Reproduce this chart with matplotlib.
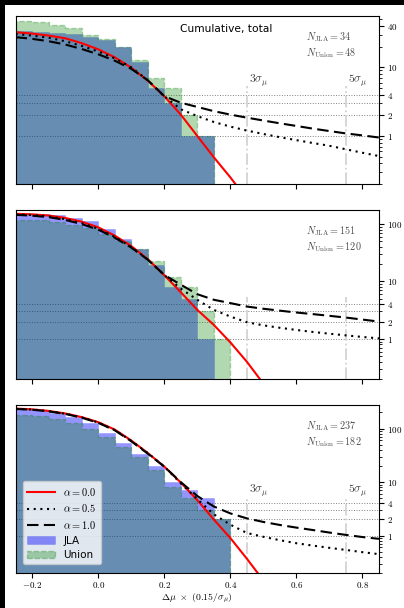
import numpy as np
import matplotlib
matplotlib.use("Agg")
import matplotlib.pyplot as plt
from matplotlib.patches import Rectangle

plt.rcParams['mathtext.fontset'] = 'cm'

# ---------------- data ----------------
bin_edges = [-0.25, -0.2, -0.15, -0.1, -0.05, 0.0, 0.05, 0.1, 0.15, 0.2, 0.25, 0.3, 0.35, 0.4]

jla_p1 = [34, 33, 32, 31, 28, 25, 20, 12, 5, 3, 1, 1]
union_p1 = [48, 45, 42, 37, 30, 26, 20, 13, 7, 5, 2, 1]
jla_p2 = [151, 150, 142, 128, 111, 83, 56, 37, 19, 8, 5, 1]
union_p2 = [120, 117, 110, 98, 85, 68, 50, 37, 23, 12, 8, 3, 1]
jla_p3 = [237, 219, 198, 164, 127, 84, 53, 34, 20, 10, 7, 5, 2]
union_p3 = [182, 170, 150, 125, 100, 70, 45, 30, 17, 8, 5, 3, 2]

n_jla = [34, 151, 237]
n_union = [48, 120, 182]

x_model = [-0.25, -0.2, -0.15, -0.1, -0.05, 0.0, 0.05, 0.1, 0.15, 0.2, 0.25, 0.3,
           0.35, 0.4, 0.45, 0.5, 0.55, 0.6, 0.65, 0.7, 0.75, 0.8, 0.85]

red_p1 = [32.5, 31, 29, 26.5, 22.5, 18.3, 14, 9.9, 6.4, 3.8, 2.05, 1.0, 0.49, 0.25, 0.12]
dot_p1 = [30.5, 29, 27, 24, 20.5, 17, 13.5, 10, 6.5, 3.8, 2.45, 1.95, 1.6, 1.37, 1.2,
          1.07, 0.96, 0.87, 0.79, 0.72, 0.64, 0.57, 0.51]
dash_p1 = [27.5, 26, 24, 21.5, 18.5, 15.5, 12.5, 9.5, 6.5, 3.8, 3.05, 2.65, 2.3, 2.05, 1.85,
           1.68, 1.53, 1.4, 1.28, 1.18, 1.09, 1.02, 0.95]

red_p2 = [151, 148, 141, 128, 110, 88, 63, 41.5, 24.5, 12.9, 6.5, 3.2, 1.75, 0.87, 0.4, 0.166]
dot_p2 = [148, 144, 136, 122, 104, 83, 60, 40, 24, 13, 7.5, 4.8, 3.2, 2.45, 1.95,
          1.72, 1.56, 1.43, 1.32, 1.23, 1.15, 1.08, 1.02]
dash_p2 = [145, 140, 132, 118, 100, 80, 58, 39, 24, 13, 8.8, 6.0, 4.8, 4.2, 3.66,
           3.35, 3.1, 2.88, 2.7, 2.52, 2.35, 2.17, 2.0]

red_p3 = [237, 229, 214, 192, 164, 132, 96, 60, 35, 19.5, 9.8, 4.6, 2.0, 0.9, 0.37, 0.145]
dot_p3 = [235, 227, 212, 190, 162, 130, 94, 59, 35, 19.5, 9.5, 4.8, 2.5, 1.6, 1.12,
          0.95, 0.82, 0.72, 0.65, 0.59, 0.54, 0.49, 0.45]
dash_p3 = [233, 225, 210, 188, 160, 128, 93, 58, 34, 19.5, 10, 5.5, 3.5, 2.6, 2.1,
           1.8, 1.58, 1.41, 1.27, 1.14, 1.03, 0.94, 0.87]

sigma_lines = [0.45, 0.75]
sigma_labels = [r'$3\sigma_\mu$', r'$5\sigma_\mu$']
hlines = [1, 2, 3, 4]

xticks = [-0.2, 0.0, 0.2, 0.4, 0.6, 0.8]
xticklabels = [r'$-0.2$', r'$0.0$', r'$0.2$', r'$0.4$', r'$0.6$', r'$0.8$']
yticks_p1 = [1, 2, 4, 10, 40]
yticks_p23 = [1, 2, 4, 10, 100]
alpha_labels = [r'$\alpha = 0.0$', r'$\alpha = 0.5$', r'$\alpha = 1.0$']

# ---------------- figure ----------------
W, H = 404, 608
fig = plt.figure(figsize=(W / 100, H / 100), dpi=100)
fig.patch.set_facecolor('white')

def fbox(l, t, r, b):
    return [l / W, 1 - b / H, (r - l) / W, (b - t) / H]

axes = [fig.add_axes(fbox(15.6, 16, 379, 184)),
        fig.add_axes(fbox(15.6, 210, 379, 379)),
        fig.add_axes(fbox(15.6, 405, 379, 573))]

panels = [
    (jla_p1, union_p1, red_p1, dot_p1, dash_p1, yticks_p1),
    (jla_p2, union_p2, red_p2, dot_p2, dash_p2, yticks_p23),
    (jla_p3, union_p3, red_p3, dot_p3, dash_p3, yticks_p23),
]

DOT = (0, (1, 2.2))
DASH = (0, (5.5, 2.6))

for i, (ax, (jla, uni, red, dot, dash, yt)) in enumerate(zip(axes, panels)):
    ax.set_yscale('log')
    hj = ax.stairs(jla, bin_edges[:len(jla) + 1], fill=True, baseline=1e-3,
                   facecolor=(0, 0, 1, 0.42), edgecolor=(0, 0, 1, 0.2), linewidth=0.5,
                   label='JLA')
    hu = ax.stairs(uni, bin_edges[:len(uni) + 1], fill=True, baseline=1e-3,
                   facecolor=(0, 0.5, 0, 0.3), edgecolor=(0, 0.5, 0, 0.3), linewidth=1.0,
                   linestyle='--', label='Union')
    l1, = ax.plot(x_model[:len(red)], red, color='red', lw=1.5, label=alpha_labels[0])
    l2, = ax.plot(x_model[:len(dot)], dot, color='black', lw=1.5, ls=DOT,
                  label=alpha_labels[1])
    l3, = ax.plot(x_model[:len(dash)], dash, color='black', lw=1.5, ls=DASH,
                  label=alpha_labels[2])
    for h in hlines:
        ax.axhline(h, color='gray', ls=':', lw=0.7, zorder=0.5)
    for xs in sigma_lines:
        ax.plot([xs, xs], [0.2, 5.3], color='lightgray', ls='-.', lw=1.3, zorder=0.6)
    if i != 1:
        for xs, lab in zip(sigma_lines, sigma_labels):
            ax.text(xs + 0.006, 4.9, lab, fontsize=8.5, color='0.25', va='bottom', ha='left')
    ax.text(0.80, 0.877, r'$N_{\rm JLA} = %d$' % n_jla[i], transform=ax.transAxes,
            fontsize=7.3, color='0.3', ha='left', va='center')
    ax.text(0.80, 0.779, r'$N_{\rm Union} = %d$' % n_union[i], transform=ax.transAxes,
            fontsize=7.3, color='0.3', ha='left', va='center')

    ax.set_xlim(-0.25, 0.85)
    ymax = 1.165 * max(n_jla[i], n_union[i])
    ax.set_ylim(0.2, ymax)
    ax.yaxis.tick_right()
    ax.set_yticks(yt)
    ax.set_yticklabels([r'$%d$' % v for v in yt])
    ax.yaxis.set_minor_formatter(matplotlib.ticker.NullFormatter())
    ax.set_xticks(xticks)
    if i == 2:
        ax.set_xticklabels(xticklabels)
        ax.set_xlabel(r'$\Delta\mu\ \times\ (0.15/\sigma_\mu)$', fontsize=7, labelpad=1)
    else:
        ax.set_xticklabels([])
    ax.tick_params(labelsize=6.5, length=3.5, width=0.8, pad=2.5)
    ax.tick_params(axis='x', pad=1.8)
    ax.tick_params(which='minor', length=2, width=0.6)
    if i == 2:
        leg_handles = [l1, l2, l3, hj, hu]

axes[0].text(0.579, 0.923, 'Cumulative, total', transform=axes[0].transAxes,
             fontsize=7.7, ha='center', va='center', family='DejaVu Sans')

leg = axes[2].legend(handles=leg_handles, loc='lower left', fontsize=7.5, framealpha=0.8,
                     borderpad=0.4, handlelength=2.7, labelspacing=0.45,
                     bbox_to_anchor=(0.005, 0.02))

fig.add_artist(Rectangle((0, 0), 5 / W, 1, transform=fig.transFigure,
                         facecolor='black', edgecolor='none'))
fig.add_artist(Rectangle((0, 1 - 5 / H), 1, 5 / H, transform=fig.transFigure,
                         facecolor='black', edgecolor='none'))

fig.savefig('out.png', dpi=100)
